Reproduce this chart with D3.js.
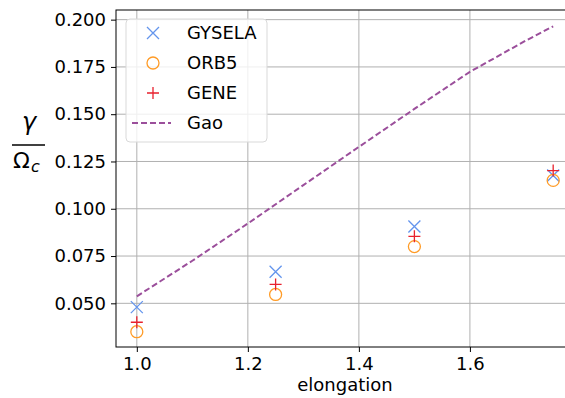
<!DOCTYPE html>
<html>
<head>
<meta charset="utf-8">
<script src="https://cdn.jsdelivr.net/npm/d3@7"></script>
<style>
  body { margin: 0; background: #fff; }
  text { font-family: "DejaVu Sans", sans-serif; fill: #000; }
</style>
</head>
<body>
<div id="chart"></div>
<script>
// data
const elongation = [1.0, 1.25, 1.5, 1.75];
const gysela = [0.048, 0.0667, 0.0906, 0.1176];
const orb5 = [0.035, 0.0547, 0.080, 0.115];
const gene = [0.040, 0.060, 0.0854, 0.1202];
const gaoX = [1.0, 1.1, 1.2, 1.3, 1.4, 1.5, 1.6, 1.7, 1.75];
const gaoY = [0.0537, 0.0725, 0.0922, 0.1125, 0.1327, 0.1528, 0.1724, 0.1888, 0.1965];
const xTicks = [1.0, 1.2, 1.4, 1.6];
const yTicks = [0.050, 0.075, 0.100, 0.125, 0.150, 0.175, 0.200];

const W = 565, H = 398;
const margin = {top: 10, right: -9, bottom: 51, left: 116};
const width = W - margin.left - margin.right;
const height = H - margin.top - margin.bottom;

const svg = d3.select('#chart').append('svg')
  .attr('width', W)
  .attr('height', H);

const g = svg.append('g')
  .attr('transform', 'translate(' + margin.left + ',' + margin.top + ')');

// SCALES
const x = d3.scaleLinear().domain([0.9625, 1.7875]).range([0, width]);
const y = d3.scaleLinear().domain([0.0269, 0.2051]).range([height, 0]);

// GRID
g.append('g').selectAll('line').data(xTicks).enter().append('line')
  .attr('x1', d => x(d)).attr('x2', d => x(d))
  .attr('y1', 0).attr('y2', height)
  .attr('stroke', '#b0b0b0').attr('stroke-width', 1);
g.append('g').selectAll('line').data(yTicks).enter().append('line')
  .attr('y1', d => y(d)).attr('y2', d => y(d))
  .attr('x1', 0).attr('x2', width)
  .attr('stroke', '#b0b0b0').attr('stroke-width', 1);

// AXES
const xAxis = d3.axisBottom(x).tickValues(xTicks).tickFormat(d3.format('.1f')).tickSize(5).tickPadding(5);
const yAxis = d3.axisLeft(y).tickValues(yTicks).tickFormat(d3.format('.3f')).tickSize(5).tickPadding(5);

g.append('g')
  .attr('transform', 'translate(0,' + height + ')')
  .call(xAxis)
  .call(a => a.select('.domain').remove())
  .selectAll('text').style('font-size', '18px');

g.append('g')
  .call(yAxis)
  .call(a => a.select('.domain').remove())
  .selectAll('text').style('font-size', '18px');

// spines
g.append('rect')
  .attr('x', 0).attr('y', 0)
  .attr('width', width).attr('height', height)
  .attr('fill', 'none').attr('stroke', '#000').attr('stroke-width', 1);

// Gao line
const line = d3.line().x((d, i) => x(gaoX[i])).y(d => y(d));
g.append('path')
  .datum(gaoY)
  .attr('d', line)
  .attr('fill', 'none')
  .attr('stroke', '#9b4f9b')
  .attr('stroke-width', 2)
  .attr('stroke-dasharray', '6,3');

const colors = {GYSELA: '#6495ed', ORB5: '#ff9b26', GENE: '#e8212e'};
const s = 6;

function drawMarker(sel, kind, color) {
  if (kind === 'x') {
    sel.append('path')
      .attr('d', `M${-s},${-s}L${s},${s}M${-s},${s}L${s},${-s}`)
      .attr('stroke', color).attr('stroke-width', 1.3).attr('fill', 'none');
  } else if (kind === 'o') {
    sel.append('circle').attr('r', s)
      .attr('stroke', color).attr('stroke-width', 1.3).attr('fill', 'none');
  } else {
    sel.append('path')
      .attr('d', `M${-s},0L${s},0M0,${-s}L0,${s}`)
      .attr('stroke', color).attr('stroke-width', 1.3).attr('fill', 'none');
  }
}

const series = [
  {name: 'GYSELA', vals: gysela, kind: 'x'},
  {name: 'ORB5', vals: orb5, kind: 'o'},
  {name: 'GENE', vals: gene, kind: '+'}
];

series.forEach(sr => {
  g.append('g').selectAll('g').data(sr.vals).enter().append('g')
    .attr('transform', (d, i) => 'translate(' + x(elongation[i]) + ',' + y(d) + ')')
    .each(function () { drawMarker(d3.select(this), sr.kind, colors[sr.name]); });
});

// LABELS
svg.append('text')
  .attr('x', margin.left + x(1.375))
  .attr('y', 391)
  .attr('text-anchor', 'middle')
  .style('font-size', '18px')
  .text('elongation');

const yl = svg.append('g').attr('transform', 'translate(28,145)');
yl.append('text')
  .attr('x', 1).attr('y', -15)
  .attr('text-anchor', 'middle')
  .style('font-size', '24px').style('font-style', 'italic')
  .text('γ');
yl.append('line')
  .attr('x1', -16).attr('x2', 17).attr('y1', 0).attr('y2', 0)
  .attr('stroke', '#000').attr('stroke-width', 1.5);
yl.append('text')
  .attr('x', -15).attr('y', 23)
  .style('font-size', '22px')
  .text('Ω');
yl.append('text')
  .attr('x', 3).attr('y', 27)
  .style('font-size', '16px').style('font-style', 'italic')
  .text('c');

// LEGEND
const leg = svg.append('g').attr('transform', 'translate(126,19)');
leg.append('rect')
  .attr('width', 141).attr('height', 123).attr('rx', 4)
  .attr('fill', '#fff').attr('fill-opacity', 0.8)
  .attr('stroke', '#d9d9d9');
const entries = [
  {name: 'GYSELA', kind: 'x'},
  {name: 'ORB5', kind: 'o'},
  {name: 'GENE', kind: '+'},
  {name: 'Gao', kind: 'line'}
];
const items = leg.selectAll('g.item').data(entries).enter().append('g')
  .attr('class', 'item')
  .attr('transform', (d, i) => 'translate(0,' + (14 + i * 30) + ')');
items.each(function (d) {
  const it = d3.select(this);
  if (d.kind === 'line') {
    it.append('line').attr('x1', 6).attr('x2', 45).attr('y1', 0).attr('y2', 0)
      .attr('stroke', '#9b4f9b').attr('stroke-width', 2).attr('stroke-dasharray', '6,3');
  } else {
    const m = it.append('g').attr('transform', 'translate(27,0)');
    drawMarker(m, d.kind, colors[d.name]);
  }
  it.append('text').attr('x', 61).attr('dy', '0.36em')
    .style('font-size', '18px').text(d.name);
});
</script>
</body>
</html>
